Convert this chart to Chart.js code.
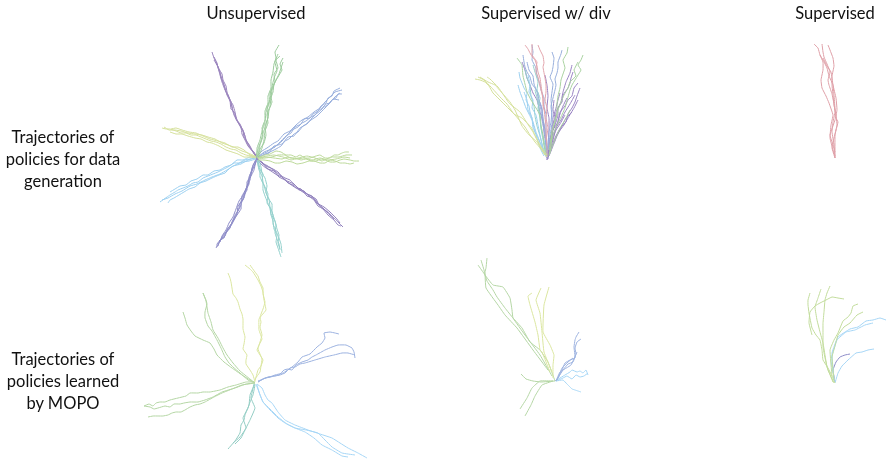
<!DOCTYPE html>
<html>
<head>
<meta charset="utf-8">
<title>Trajectories</title>
<script src="https://cdn.jsdelivr.net/npm/chart.js@4"></script>
<style>
  html, body { margin: 0; padding: 0; background: #fff; }
  #wrap { position: relative; width: 886px; height: 459px; overflow: hidden; }
  #traj { filter: blur(0.4px); }
  .lbl { position: absolute; font-family: Lato, sans-serif; font-size: 16.5px; color: #111; text-align: center; white-space: nowrap; transform: translateX(-50%); }
</style>
</head>
<body>
<div id="wrap">
  <canvas id="traj" width="886" height="459"></canvas>
</div>
<script>
// text
const columnTitles = ['Unsupervised', 'Supervised w/ div', 'Supervised'];
const rowLabels = [
  ['Trajectories of', 'policies for data', 'generation'],
  ['Trajectories of', 'policies learned', 'by MOPO']
];

// every trajectory is a flat x,y list read from the picture
// top left panel
const genPurpleNW = [
  [257,158,252,150,250,146,246,140,244,133,241,128,238,122,236,118,233,111,232,106,229,98,226,92,224,85,221,78,220,72,216,62,214,58,212,52],
  [258,159,254,152,250,148,247,143,245,136,243,130,239,124,237,120,235,113,231,109,230,101,227,95,225,88,223,82,221,76,218,68,217,63,214,57],
  [255,155,251,149,249,145,244,137,243,131,240,124,236,119,235,112,233,105,230,100,227,92,226,86,223,80,222,74,219,69,216,62],
  [256,157,253,152,248,146,245,140,242,134,241,127,237,121,234,115,232,108,231,102,228,95,225,90,222,82,220,75,218,67,214,60]
];
const genGreenN = [
  [257,158,259,150,260,145,263,136,262,128,265,120,265,111,268,103,268,96,271,88,271,80,273,72,274,64,276,58,275,52,279,45],
  [258,158,262,148,264,140,265,131,268,123,267,115,270,106,271,98,272,90,275,82,274,74,278,68,276,60,280,56],
  [256,157,258,149,261,141,263,133,266,125,268,117,267,108,270,100,273,92,274,84,278,77,282,70,280,64,283,58],
  [258,157,260,149,264,143,266,135,265,126,268,118,269,110,272,102,270,94,273,86,276,80,279,74,281,68,283,62],
  [257,157,257,148,260,140,262,131,265,122,266,112,269,104,270,95,272,87,274,78,277,71,275,62,278,54]
];
const genBlueNE = [
  [257,158,264,152,269,150,275,147,279,143,286,136,291,133,295,127,301,124,304,119,310,118,313,114,318,111,321,106,326,103,328,98,332,96,334,91,338,89,340,88],
  [258,158,265,154,270,152,276,149,281,146,285,141,289,139,294,134,298,132,303,126,307,124,312,118,316,114,320,111,324,107,328,105,332,100,336,98,338,94,342,94],
  [258,157,262,154,267,152,272,148,276,146,280,143,284,139,288,134,292,130,298,127,302,123,306,121,311,117,315,115,318,111,322,108,326,104,330,103,333,99,339,100],
  [256,157,262,151,267,148,274,143,278,141,284,134,290,131,296,125,302,120,308,117,314,112,320,108,325,102,330,97,335,92,342,90],
  [257,158,263,155,269,153,274,146,282,144,288,137,294,136,300,128,305,125,311,120,317,116,323,110,327,106,331,101,336,96,340,93]
];
const genGreenE = [
  [257,158,265,155,270,154,276,151,281,152,286,155,291,155,296,157,300,155,305,158,310,158,316,156,320,155,325,158,330,158,334,155,338,155,342,153,345,152,349,152],
  [258,159,265,158,272,157,278,155,285,155,290,158,295,158,301,160,306,159,311,161,316,161,321,159,325,160,330,162,335,162,340,160,344,159,350,160,354,161,359,161],
  [258,160,264,160,270,161,275,163,280,163,286,161,292,162,297,164,303,163,309,161,314,161,320,163,325,163,330,160,335,161,340,163,345,163,350,164,354,163],
  [258,158,266,157,274,158,282,159,288,157,296,159,304,158,312,160,320,158,328,160,336,159,344,157,350,158],
  [258,158,267,156,274,155,283,157,291,160,298,158,307,156,315,158,322,161,331,157,339,157,346,155,352,155]
];
const genPurpleSE = [
  [257,158,262,163,266,165,271,168,276,172,280,175,285,178,290,180,293,183,298,188,302,190,307,194,312,196,316,201,318,204,322,207,326,211,331,216,335,219,338,222,343,227],
  [258,159,263,164,268,167,273,169,278,172,283,178,287,181,292,183,296,186,301,191,305,193,311,196,316,199,319,205,321,207,325,210,329,213,332,216,334,219],
  [256,158,261,164,266,168,271,171,277,175,282,177,288,183,293,185,299,190,304,191,310,197,314,200,318,206,323,209,328,215,334,220,338,225,341,226],
  [257,159,262,162,268,169,274,171,279,177,285,180,290,184,296,188,301,189,307,196,313,198,317,203,324,207,330,212,336,218,340,223]
];
const genTealS = [
  [258,160,258,165,259,170,262,176,263,182,263,190,265,196,267,201,270,208,271,215,273,221,274,229,277,235,276,242,278,248,281,257],
  [259,160,261,167,262,173,265,178,267,186,266,192,268,198,272,204,272,212,274,218,276,225,275,233,277,239,279,244,280,250],
  [257,160,259,168,263,174,262,181,265,187,268,194,267,203,271,209,273,215,273,224,276,231,279,238,281,244,282,253],
  [258,161,260,169,260,177,264,185,266,193,269,199,270,207,271,214,275,221,277,229,279,235,278,243,280,249]
];
const genIndigoSW = [
  [257,159,254,166,252,170,249,177,249,184,246,190,244,198,240,203,239,208,236,215,232,222,230,228,226,233,222,238,219,243,216,248],
  [256,159,252,168,251,173,250,180,246,189,242,196,241,203,241,209,235,218,232,224,228,230,224,234,221,239,217,244,217,247],
  [257,160,253,169,250,175,248,184,245,192,243,200,238,206,237,214,234,220,229,227,226,232,224,238,220,240,218,246],
  [256,160,254,170,249,180,247,186,244,194,239,201,236,209,233,217,229,223,226,230,222,236,220,242],
  [257,159,253,165,251,175,247,182,247,190,243,197,241,205,238,211,235,215,231,225,228,228,225,236,219,241]
];
const genSkyWSW = [
  [256,158,250,159,245,160,239,163,234,163,228,167,224,169,218,172,213,174,208,176,203,178,198,182,193,183,188,186,183,188,178,190,175,192,170,195,167,197,160,202],
  [256,159,249,161,243,162,237,164,230,168,225,173,219,175,212,178,206,181,200,183,195,187,189,189,184,192,179,195,174,198,170,200,168,203],
  [256,157,250,157,243,160,237,160,231,165,225,167,220,170,214,171,208,175,203,175,197,179,191,181,186,185,180,186,175,189,170,192],
  [255,158,248,160,241,164,233,166,227,170,220,174,212,177,205,180,197,184,190,186,182,191,175,194,168,198,162,200]
];
const genYellowW = [
  [256,157,251,156,246,155,241,153,236,150,231,149,226,147,221,144,216,142,211,141,206,139,201,137,196,135,191,135,186,133,181,133,176,131,170,129,166,129,162,128],
  [256,158,250,157,244,157,238,154,232,152,226,150,219,146,212,143,207,142,201,139,195,138,188,136,182,134,176,134,170,132],
  [255,156,248,153,242,151,236,148,228,145,222,143,215,139,208,137,202,135,195,134,188,133,181,131,175,130,169,130,164,127],
  [256,157,250,155,244,150,238,147,232,147,225,143,218,141,210,139,203,136,196,133,189,132,182,130,176,128,171,129]
];

// top middle panel
const divYellow = [
  [547,157,541,149,535,142,530,135,525,127,520,121,515,115,510,110,505,105,499,99,493,93,489,86,485,82,480,80,475,79],
  [547,155,540,145,535,135,531,127,522,118,514,114,507,104,500,97,491,87,484,80,478,77],
  [545,155,538,142,533,132,527,123,520,112,509,103,503,94,498,87,490,79,487,77],
  [545,155,537,142,529,135,522,126,515,110,510,102,502,93,495,85,488,82,480,77]
];
const divPink = [
  [525,45,528,49,530,53,533,58,535,60,537,66,538,72,540,78,541,85,542,92,543,100,544,108,545,118,546,126,546,135,547,148,547,157],
  [532,44,532,50,532,55,535,59,537,62,536,68,536,72,538,77,539,82,541,90,543,98,543,106,545,112],
  [538,45,540,50,543,56,544,63,543,67,545,78,546,85,546,92,545,100,547,108,546,118,548,128,546,140]
];
const divGreen = [
  [568,47,567,53,563,60,564,64,565,68,563,74,561,80,560,88,558,96,557,104,557,114,555,122,552,132,551,145,549,155],
  [583,55,581,60,578,65,581,70,578,75,575,80,572,85,570,90,568,97,565,108,561,117,557,125,553,135,550,150],
  [517,58,520,62,522,65,523,76,525,84,527,92,531,100,536,108,540,115,541,125,543,135,544,145,546,155],
  [578,62,574,70,576,76,570,82,568,88,564,95,561,102,558,110,555,120,552,132,549,150],
  [570,110,565,120,560,128,556,137,552,147,549,156]
];
const divBlue = [
  [552,52,554,58,553,67,552,72,550,77,553,84,552,92,551,100,552,110,551,122,549,132,548,145,547,157],
  [562,50,561,54,558,62,558,68,557,73,555,79,556,85,555,90,553,98,551,106,552,116,552,124,550,135,548,150],
  [523,55,524,62,525,67,527,72,530,77,532,84,535,88,538,93,538,100,541,110,542,120,544,130,546,142,547,157],
  [532,45,533,52,532,60,536,68,537,76,540,84,541,90,544,98,544,106,546,115,546,128,546,145],
  [527,62,529,70,533,76,534,84,537,92,539,100,542,108,543,118,545,130,546,145,547,158]
];
const divSky = [
  [519,72,520,78,522,83,524,88,527,93,526,100,529,106,530,112,532,118,533,128,537,136,541,145,545,155],
  [518,85,520,92,523,100,526,108,529,114,533,122,536,132,540,142,544,152],
  [528,75,530,85,529,92,533,100,532,108,536,115,538,125,540,135,543,148,546,156],
  [524,92,527,100,528,110,532,118,534,128,537,138,540,148,544,156]
];
const divTeal = [
  [533,65,535,72,538,82,537,90,540,98,538,108,540,118,541,128,543,140,546,155],
  [535,90,537,98,539,108,540,118,541,128,544,140,546,152],
  [525,70,527,78,530,86,531,96,534,106,535,116,537,126,540,136,543,148,546,156]
];
const divPurple = [
  [573,72,571,78,570,83,568,88,563,95,562,102,558,108,558,115,556,122,552,132,550,142,548,159],
  [580,88,577,96,575,102,572,108,568,114,566,122,561,127,558,132,554,140,551,150,548,157],
  [578,83,574,88,572,96,568,100,565,106,560,112,558,122,553,130,552,140,549,150,547,157],
  [560,93,558,100,556,108,553,118,553,126,551,136,549,148,547,157],
  [578,100,574,108,568,118,564,125,558,133,554,142,550,150,547,160],
  [522,62,525,70,527,78,530,85,533,93,537,100,540,112,543,122,544,132,546,145,547,157],
  [545,75,547,85,548,96,547,108,549,118,549,130,548,145,547,157],
  [565,115,560,124,556,130,553,138,550,148,547,156],
  [572,65,570,73,566,82,563,92,561,102,556,112,555,124,551,135,548,148,546,157],
  [567,98,563,106,560,114,558,121,556,128,553,135,551,145,548,157],
  [575,95,570,104,565,112,561,120,556,128,553,140,549,152,547,158],
  [554,100,553,110,555,118,552,126,552,136,550,146,548,157],
  [539,100,542,110,543,120,545,130,546,140,547,150,547,160],
  [572,112,566,118,562,126,557,136,553,146,549,156]
];

// top right panel
const supPink = [
  [814,44,818,48,820,55,823,60,827,68,829,76,833,85,834,95,835,108,836,118,838,122,836,130,834,138,832,148,835,158],
  [822,44,823,52,824,57,827,64,830,72,828,80,829,85,832,94,834,104,835,112,833,122,832,132,834,145,835,158],
  [828,45,830,50,833,58,834,66,832,76,832,85,833,95,834,105,836,115,837,125,835,135,835,158],
  [820,55,823,62,823,70,821,80,822,88,826,96,829,103,833,115,831,125,830,138,833,150,835,156],
  [823,58,827,66,831,72,833,85,836,98,837,110,835,120,830,135,833,145,835,152]
];

// bottom left panel
const learnedYellow = [
  [250,265,255,272,258,276,260,282,263,288,263,294,265,302,263,309,260,317,261,322,260,327,262,335,260,342,258,349,260,354,262,359,261,366,260,372,255,379],
  [245,265,250,269,253,272,258,280,261,286,263,292,264,300,266,310,262,315,259,319,259,330,262,339,259,345,257,350,260,355,263,360,261,366,258,370,255,381],
  [228,273,230,278,231,282,232,288,233,294,236,298,238,302,240,309,242,314,243,319,243,325,243,329,245,337,244,344,243,349,247,355,246,360,246,364,250,370,253,375,255,382]
];
const learnedGreen = [
  [203,293,206,300,207,304,205,312,205,318,208,326,212,331,217,340,221,348,225,357,229,363,233,367,240,373,248,380,255,383],
  [203,293,206,301,208,313,211,322,213,330,218,338,223,348,227,355,233,363,240,371,250,379,255,383],
  [183,312,185,318,187,325,191,331,195,336,203,340,210,343,214,349,217,355,224,362,232,368,242,375,250,380,255,383],
  [144,406,149,404,153,406,156,403,160,402,165,402,170,400,178,398,186,396,190,393,198,393,203,392,210,392,220,390,228,387,236,385,246,382,255,382],
  [144,406,150,407,154,409,158,408,165,406,170,407,174,404,180,404,184,403,190,402,198,402,205,400,213,397,222,392,235,388,246,384,255,383],
  [148,417,153,416,158,416,163,416,168,415,172,413,176,412,181,412,185,410,190,407,195,405,200,404,205,402,214,397,222,393,232,389,242,385,255,383]
];
const learnedTeal = [
  [255,384,252,390,250,395,249,405,245,415,244,420,241,425,240,433,235,441,228,449],
  [255,385,253,395,250,402,248,408,243,418,246,428,240,437,233,443],
  [254,384,251,398,255,408,250,420,245,430,241,438,235,444]
];
const learnedBlue = [
  [258,382,265,378,270,377,275,375,283,373,292,367,298,362,302,357,310,354,317,347,322,343,325,338,324,333,330,332,335,333,339,334],
  [258,382,263,379,268,377,274,376,279,375,284,370,288,369,292,370,296,365,302,362,308,360,312,357,316,355,325,350,332,347,338,345,346,345,352,348,354,352,355,358],
  [258,381,266,378,275,376,280,375,285,373,290,368,295,367,300,364,305,363,315,360,325,357,334,355,342,353,348,353,355,355]
];
const learnedSky = [
  [257,384,262,388,265,395,268,400,272,403,278,412,285,420,295,425,308,430,320,434,332,438,340,443,348,448,358,453,367,458],
  [257,385,260,395,263,402,270,410,278,418,285,423,295,428,305,432,314,438,322,445,332,450,342,456,348,457],
  [256,384,259,392,263,402,270,409,278,417,287,424,295,428,306,430,318,433,325,440,332,447,342,453,355,455]
];

// bottom middle panel
const divLearnedGreen = [
  [478,265,485,275,487,281,493,290,497,297,505,308,513,318,522,328,530,342,540,350,548,362,555,381],
  [481,260,484,270,485,275,493,285,503,287,510,298,512,310,513,318,525,335,540,355,552,376],
  [487,258,486,268,485,272,486,288,498,305,505,315,517,328,533,350,548,370],
  [521,374,526,379,533,381,541,382,555,381],
  [520,409,527,398,532,388,540,381,553,381],
  [525,416,531,405,535,396,542,385,553,381]
];
const divLearnedYellow = [
  [532,293,528,296,530,305,535,322,538,335,540,350,542,352,550,372],
  [541,288,536,300,540,313,542,332,544,352,552,372],
  [549,287,544,305,543,332,550,345,554,355,553,365,553,378]
];
const divLearnedBlue = [
  [579,332,576,337,575,340,574,347,575,358,570,360,565,363,562,370,557,380],
  [581,339,577,342,575,348,576,354,573,362,568,364,563,370,556,381],
  [577,352,571,365,560,372,556,381],
  [573,358,568,362,562,368,558,378,555,381]
];
const divLearnedSky = [
  [588,375,586,370,583,373,580,371,577,372,572,370,570,372,565,375,555,381],
  [588,373,584,376,580,377,576,375,572,379,567,376,563,378,556,381],
  [581,392,578,391,575,390,572,389,570,387,567,384,563,380,556,381]
];

// bottom right panel
const supLearnedGreen = [
  [810,293,808,300,808,305,809,313,812,328,816,335,820,340,822,350,823,360,828,368,832,376,835,383],
  [821,289,818,298,815,307,817,320,820,332,823,343,825,355,827,367,833,382],
  [830,286,827,293,825,300,824,312,823,323,823,335,823,347,825,358,828,370,834,383],
  [844,299,838,298,832,297,826,300,820,303,815,306,810,312,809,323,812,335],
  [858,304,853,306,851,313,848,317,843,321,838,333,834,340,830,350,832,376],
  [863,312,857,315,850,323,844,327,838,335,835,346,832,357,834,380]
];
const supLearnedSky = [
  [886,320,880,318,873,320,866,321,858,327,850,329,838,337,832,353,834,380],
  [873,323,865,325,855,330,846,332,837,340,831,360,835,382],
  [874,349,868,350,862,352,856,353,848,360,842,366,838,373,835,383]
];
const supLearnedIndigo = [
  [850,354,845,355,840,357,836,362,833,370,835,382]
];

// which list gets which colour
const groups = [
  [genYellowW, '#d5e09a'], [genGreenE, '#bcd99a'], [genGreenN, '#9ccb9c'], [genBlueNE, '#97aedc'],
  [genTealS, '#93d0cc'], [genSkyWSW, '#9cd0f0'], [genIndigoSW, '#8d8cc8'], [genPurpleSE, '#8f7fbc'], [genPurpleNW, '#9a84bd'],
  [divYellow, '#d5e09a'], [divPink, '#e2a4ac'], [divGreen, '#a9d2a0'], [divSky, '#9cd0f0'], [divTeal, '#93d0cc'], [divBlue, '#97aedc'], [divPurple, '#9a84c4'],
  [supPink, '#dfa0a8'],
  [learnedYellow, '#dbe6a0'], [learnedGreen, '#b4d6a4'], [learnedTeal, '#93cdc4'], [learnedBlue, '#9cb2e0'], [learnedSky, '#a6d6f6'],
  [divLearnedYellow, '#dbe6a0'], [divLearnedGreen, '#b4d6a4'], [divLearnedBlue, '#9cb2e0'], [divLearnedSky, '#a6d6f6'],
  [supLearnedGreen, '#c2dc9c'], [supLearnedSky, '#a6d6f6'], [supLearnedIndigo, '#8d8cc8']
];

function toPoints(flat) {
  const pts = [];
  for (let i = 0; i < flat.length; i += 2) pts.push({ x: flat[i], y: flat[i + 1] });
  return pts;
}

const datasets = [];
groups.forEach(function(g) {
  g[0].forEach(function(line) {
    datasets.push({
      data: toPoints(line),
      borderColor: g[1],
      borderWidth: 1,
      pointRadius: 0,
      showLine: true,
      fill: false,
      tension: 0.1
    });
  });
});

new Chart(document.getElementById('traj').getContext('2d'), {
  type: 'scatter',
  data: { datasets: datasets },
  options: {
    responsive: false,
    animation: false,
    layout: { padding: 0 },
    plugins: { legend: { display: false }, tooltip: { enabled: false } },
    scales: {
      x: { type: 'linear', min: 0, max: 886, display: false },
      y: { type: 'linear', min: 0, max: 459, reverse: true, display: false }
    }
  }
});

// column titles and row labels
const wrap = document.getElementById('wrap');
function addLabel(text, x, y) {
  const d = document.createElement('div');
  d.className = 'lbl';
  d.textContent = text;
  d.style.left = x + 'px';
  d.style.top = y + 'px';
  wrap.appendChild(d);
}
const titleX = [256, 546, 835];
columnTitles.forEach(function(t, i) { addLabel(t, titleX[i], 3); });
const rowY = [[127, 149, 171], [349, 371, 393]];
rowLabels.forEach(function(r, i) {
  r.forEach(function(t, j) { addLabel(t, 63, rowY[i][j]); });
});
</script>
</body>
</html>
